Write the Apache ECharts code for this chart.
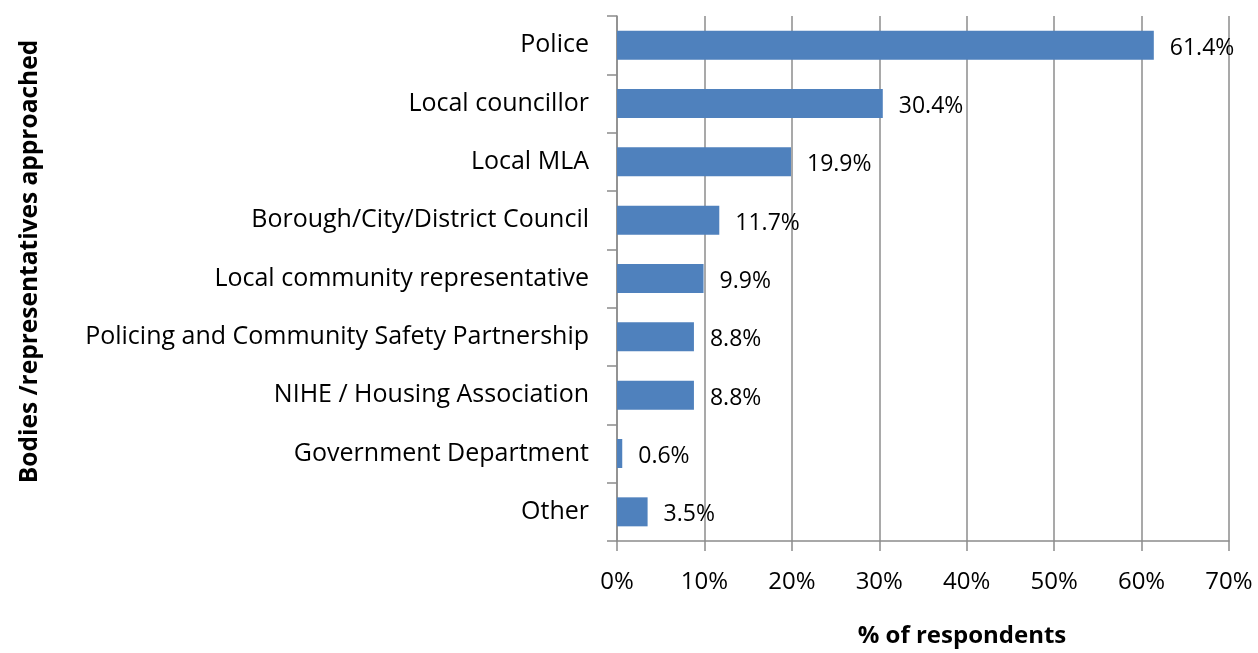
<!DOCTYPE html>
<html>
<head>
<meta charset="utf-8">
<script src="https://cdn.jsdelivr.net/npm/echarts@6/dist/echarts.min.js"></script>
<style>
  html, body { margin: 0; padding: 0; background: #fff; }
  #chart { width: 1258px; height: 653px; }
</style>
</head>
<body>
<div id="chart"></div>
<script>
// categories top to bottom, as in the picture
const categories = [
  'Police',
  'Local councillor',
  'Local MLA',
  'Borough/City/District Council',
  'Local community representative',
  'Policing and Community Safety Partnership',
  'NIHE / Housing Association',
  'Government Department',
  'Other'
];
const values = [61.4, 30.4, 19.9, 11.7, 9.9, 8.8, 8.8, 0.6, 3.5];

const font = '"Open Sans", "Noto Sans", sans-serif';
const gridColor = '#8c8c8c';

const chart = echarts.init(document.getElementById('chart'));

chart.setOption({
  animation: false,
  grid: { left: 617, right: 29, top: 16, bottom: 108, containLabel: false },
  xAxis: {
    type: 'value',
    min: 0,
    max: 70,
    interval: 10,
    name: '% of respondents',
    nameLocation: 'middle',
    nameGap: 83,
    nameTextStyle: { fontFamily: font, fontSize: 24, fontWeight: 'bold', color: '#000', padding: [0, 0, 0, 78] },
    axisLine: { show: true, lineStyle: { color: gridColor, width: 1.5 } },
    axisTick: { show: true, length: 10, lineStyle: { color: gridColor, width: 1.5 } },
    axisLabel: { margin: 29, fontFamily: font, fontSize: 24, color: '#000', formatter: '{value}%' },
    splitLine: { show: true, lineStyle: { color: gridColor, width: 1.5 } }
  },
  yAxis: {
    type: 'category',
    inverse: true,
    data: categories,
    name: 'Bodies /representatives approached',
    nameLocation: 'middle',
    nameGap: 574,
    nameRotate: 90,
    nameTextStyle: { fontFamily: font, fontSize: 24.5, fontWeight: 'bold', color: '#000', padding: [0, 0, 0, 34] },
    axisLine: { show: true, lineStyle: { color: gridColor, width: 1.5 } },
    axisTick: { show: true, length: 10, lineStyle: { color: gridColor, width: 1.5 } },
    axisLabel: { margin: 28, fontFamily: font, fontSize: 25, color: '#000', padding: [0, 0, 6, 0] }
  },
  series: [{
    type: 'bar',
    data: values,
    barWidth: 29,
    itemStyle: { color: '#4f81bd' },
    label: {
      show: true,
      position: 'right',
      distance: 16,
      offset: [0, 3],
      fontFamily: font,
      fontSize: 23,
      color: '#000',
      formatter: p => p.value.toFixed(1) + '%'
    }
  }]
});
</script>
</body>
</html>
